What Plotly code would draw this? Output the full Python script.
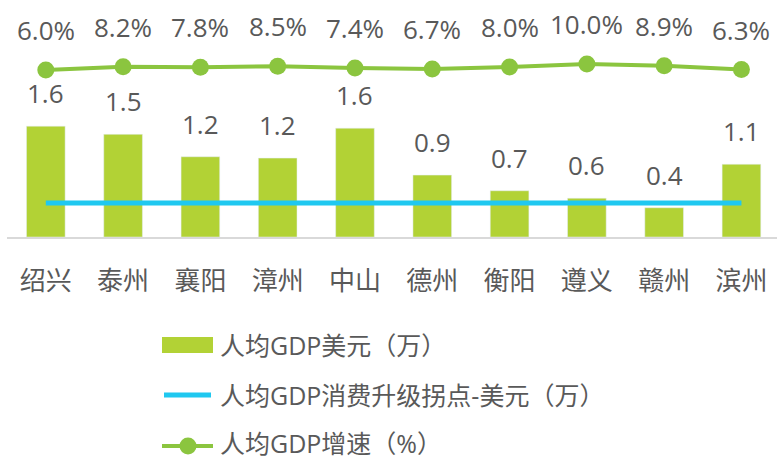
import plotly.graph_objects as go

cities = ["绍兴", "泰州", "襄阳", "漳州", "中山", "德州", "衡阳", "遵义", "赣州", "滨州"]
gdp_usd_wan = [1.63, 1.51, 1.18, 1.16, 1.60, 0.91, 0.68, 0.57, 0.43, 1.07]
upgrade_point = [0.5] * len(cities)
gdp_growth = [6.0, 8.2, 7.8, 8.5, 7.4, 6.7, 8.0, 10.0, 8.9, 6.3]

legend_names = ["人均GDP美元（万）", "人均GDP消费升级拐点-美元（万）", "人均GDP增速（%）"]

BAR_C = "#B2D235"
CYAN = "#1FC8F0"
GREEN = "#8BC53F"
TXT = "#595959"
FONT = "Open Sans, Noto Sans CJK SC, sans-serif"

W, H = 777, 459
L, R, T, B = 7, 0, 0, 222
PW, PH = W - L - R, H - T - B


def px(xp):
    return (xp - L) / PW


def py(yp):
    return (H - B - yp) / PH


fig = go.Figure()
fig.add_trace(go.Bar(x=cities, y=gdp_usd_wan, name=legend_names[0], marker_color=BAR_C,
                     width=0.5, showlegend=False))
fig.add_trace(go.Scatter(x=cities, y=upgrade_point, name=legend_names[1], mode="lines",
                         line=dict(color=CYAN, width=5), showlegend=False))
fig.add_trace(go.Scatter(x=cities, y=gdp_growth, name=legend_names[2], mode="lines+markers",
                         line=dict(color=GREEN, width=4), marker=dict(size=17, color=GREEN),
                         yaxis="y2", showlegend=False))

annotations = []
for c, v in zip(cities, gdp_usd_wan):
    annotations.append(dict(x=c, y=v, xref="x", yref="y", text=f"{v:.1f}", showarrow=False,
                            yshift=33, font=dict(size=26, color=TXT, family=FONT)))
for c, v in zip(cities, gdp_growth):
    annotations.append(dict(x=c, y=v, xref="x", yref="y2", text=f"{v:.1f}%", showarrow=False,
                            yshift=40, font=dict(size=26, color=TXT, family=FONT)))

# manual legend
shapes = []
leg_y = [345, 395, 443]
shapes.append(dict(type="rect", xref="paper", yref="paper", x0=px(162), x1=px(213),
                   y0=py(353), y1=py(337), fillcolor=BAR_C, line=dict(width=0)))
shapes.append(dict(type="line", xref="paper", yref="paper", x0=px(164), x1=px(211),
                   y0=py(leg_y[1]), y1=py(leg_y[1]), line=dict(color=CYAN, width=5)))
shapes.append(dict(type="line", xref="paper", yref="paper", x0=px(162), x1=px(213),
                   y0=py(446), y1=py(446), line=dict(color=GREEN, width=4)))
shapes.append(dict(type="circle", xref="paper", yref="paper", x0=px(179.5), x1=px(196.5),
                   y0=py(446 + 8.5), y1=py(446 - 8.5), fillcolor=GREEN,
                   line=dict(width=0)))
for name, yy in zip(legend_names, leg_y):
    annotations.append(dict(x=px(218), y=py(yy), xref="paper", yref="paper", text=name,
                            showarrow=False, xanchor="left", yanchor="middle",
                            font=dict(size=25, color=TXT, family=FONT)))

fig.update_layout(
    width=W, height=H,
    margin=dict(l=L, r=R, t=T, b=B),
    paper_bgcolor="white", plot_bgcolor="white",
    showlegend=False,
    font=dict(family=FONT, color=TXT),
    xaxis=dict(range=[-0.502, 9.46], showgrid=False, showline=True, linecolor="#D9D9D9",
               linewidth=2, ticks="", ticklabelstandoff=20,
               tickfont=dict(size=26, color=TXT, family=FONT)),
    yaxis=dict(range=[0, PH / 68.0], visible=False, showgrid=False),
    yaxis2=dict(range=[-(PH - 79) / 1.5, 79 / 1.5], overlaying="y", visible=False,
                showgrid=False),
    annotations=annotations,
    shapes=shapes,
    bargap=0.5,
)

fig.write_html("out.html", config={"displayModeBar": False},
               post_script="document.body.style.margin='0';document.body.style.overflow='hidden';")
